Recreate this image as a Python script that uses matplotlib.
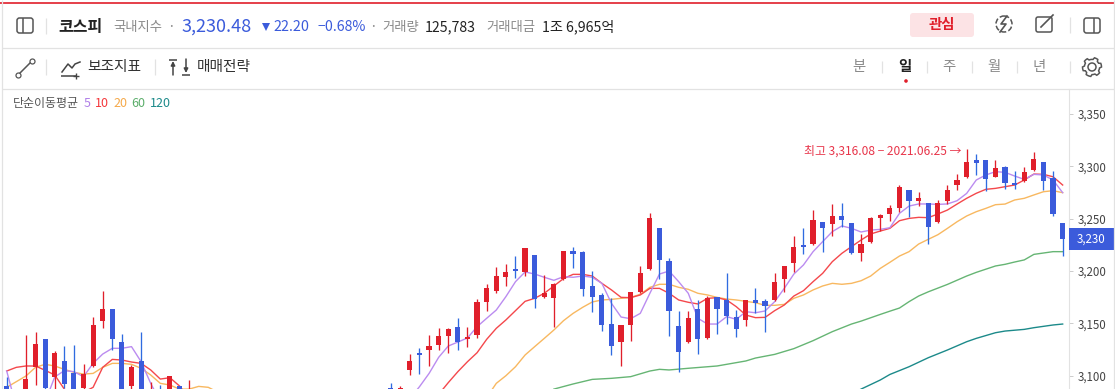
import matplotlib
matplotlib.use("Agg")
import matplotlib.pyplot as plt
from matplotlib.patches import Rectangle, FancyBboxPatch, Circle, Polygon
import numpy as np

plt.rcParams['font.family'] = ['Noto Sans CJK KR', 'DejaVu Sans']

# candles, only the days that reach into the visible window
days = list(range(0, 20)) + list(range(40, 111))
opens = [3090, 3078, 3085, 3108.1, 3134.9, 3098.6, 3113.9, 3102.4, 3088, 3109.1,
         3152.1, 3163.6, 3132, 3089.9, 3113.9, 3075, 3085, 3085, 3090, 3075,
         3088, 3086, 3105.3, 3121.5, 3124.4, 3129.2, 3137.8, 3146.4, 3134.9, 3138.7,
         3170.3, 3180.8, 3194.2, 3201.8, 3199, 3215.2, 3175, 3174, 3192.3, 3219,
         3218.1, 3185.6, 3177, 3149.2, 3132, 3148.3, 3179.8, 3201.8, 3241, 3209.5,
         3147.3, 3132, 3163.6, 3135.9, 3175, 3172.2, 3155.9, 3153.1, 3172.2, 3171.2,
         3172.2, 3192.3, 3207.6, 3224.8, 3225.7, 3246.8, 3244.9, 3252.5, 3245.8, 3217.1,
         3227.6, 3250.6, 3254.4, 3260.1, 3277.3, 3266.8, 3264.9, 3246.7, 3266.8, 3282.1,
         3289.8, 3306, 3306, 3289.8, 3299.3, 3284, 3285.9, 3296.5, 3304.1, 3288.8, 3245.8]
highs = [3098.9, 3085, 3138.7, 3141.6, 3134.9, 3123.4, 3128.2, 3129.2, 3111, 3155.9,
         3180.8, 3163.6, 3139.7, 3110, 3141.6, 3093.8, 3090.9, 3099.5, 3090, 3095.7,
         3092.8, 3090, 3120.6, 3126.3, 3138.7, 3145.4, 3145.4, 3155, 3146.4, 3173.1,
         3187.5, 3203.7, 3206.6, 3214.3, 3221.9, 3215.2, 3196.1, 3188.1, 3219, 3222.9,
         3219, 3199.9, 3178.9, 3174, 3148.3, 3179.8, 3204.7, 3255.4, 3241, 3212.3,
         3161.7, 3161.7, 3172.2, 3176, 3175, 3198, 3162.6, 3172.2, 3183.7, 3173.1,
         3198, 3204.7, 3233.4, 3241, 3258.2, 3246.8, 3264, 3265, 3245.8, 3235.3,
         3251.2, 3254.4, 3263, 3282.1, 3277.3, 3275.4, 3264.9, 3267.8, 3282.1, 3292.6,
         3316.1, 3311.8, 3306, 3306, 3300.3, 3295.5, 3299.3, 3313.7, 3304.1, 3295.5, 3245.8]
lows = [3075, 3072, 3075, 3090.9, 3085, 3085, 3088, 3080, 3085, 3108,
        3145.4, 3124.4, 3080, 3085, 3080, 3070, 3070, 3080, 3075, 3070,
        3078, 3084, 3100.5, 3101.4, 3109, 3124.4, 3121.5, 3124.4, 3127.3, 3135.9,
        3161.7, 3178.9, 3185.6, 3193.2, 3195.1, 3164.5, 3174, 3146.4, 3191.3, 3202.8,
        3176, 3160.7, 3142.5, 3119.6, 3109, 3133, 3178.9, 3200.9, 3192.3, 3137.8,
        3103.4, 3131, 3120.6, 3134.9, 3139.7, 3149.2, 3136.8, 3147.3, 3159.8, 3141.6,
        3171.2, 3179.8, 3199, 3216.2, 3224.8, 3218.1, 3233.4, 3242, 3216.2, 3209.5,
        3226.7, 3238.1, 3247.7, 3256.3, 3251.5, 3262, 3225.7, 3245.8, 3264, 3277.3,
        3288.8, 3291.7, 3276.4, 3289.8, 3278.3, 3278.3, 3285, 3295.5, 3277.3, 3252.5, 3214.2]
closes = [3080, 3082, 3096.6, 3130.1, 3088.4, 3121.5, 3091.9, 3085, 3101.4, 3148.3,
          3163.6, 3134.9, 3085, 3108.1, 3085, 3085, 3075, 3099.5, 3080, 3085,
          3082, 3088, 3113.9, 3119.6, 3128.2, 3137.8, 3144.5, 3132, 3136.8, 3170.3,
          3183.7, 3195.1, 3199, 3199.9, 3221.9, 3173.1, 3178.9, 3187.5, 3219, 3216.2,
          3182.7, 3175, 3148.3, 3128.2, 3148.3, 3179.8, 3198, 3250.6, 3210.4, 3161.7,
          3122.5, 3155, 3134.9, 3174.1, 3163.6, 3156.9, 3144.5, 3172.2, 3169.3, 3166.5,
          3189.4, 3204.7, 3222.9, 3222.9, 3248.7, 3241, 3252.5, 3248.7, 3217.1, 3225.7,
          3250.2, 3253.4, 3260.1, 3280.2, 3266.8, 3269.7, 3242, 3264.9, 3277.3, 3286.9,
          3304.1, 3303.2, 3287.9, 3298.4, 3284, 3282.1, 3294.5, 3307, 3285.9, 3254.4, 3230.48]

# moving averages, left run and right run (the gap is under the window)
ma5_left = [3104.3, 3070, 3060, 3060, 3074.6, 3098.6, 3104.6, 3103.7, 3098.9, 3111.6,
            3120.5, 3126, 3126, 3127.6, 3113.2, 3092.5, 3075]
ma5_right = [3078, 3089.3, 3102, 3117.4, 3128.2, 3132, 3135.9, 3146.7, 3154.7, 3162.6,
             3175.4, 3189.7, 3199, 3197, 3193.9, 3191, 3194.5, 3193.9, 3195.1, 3193.9,
             3188.1, 3169, 3155.9, 3154.3, 3159.4, 3178.6, 3197, 3199.9, 3189.7, 3178.6,
             3154.7, 3149.2, 3149.2, 3156.3, 3153.7, 3161, 3160, 3161.7, 3170.6, 3183.3,
             3197, 3205.7, 3218.4, 3228, 3237.5, 3243, 3240.7, 3237.2, 3239, 3239.7,
             3241.3, 3255, 3262, 3264, 3264, 3263.6, 3264, 3267.1, 3274.1, 3286.9,
             3291.7, 3294.9, 3294.2, 3290.7, 3287.5, 3292.3, 3291.7, 3286.9, 3274.8]
ma10_left = [3104.3, 3107.8, 3109.1, 3109.1, 3105, 3100.5, 3087, 3080, 3084, 3088.7,
             3107.8, 3115.4, 3114.8, 3112.9, 3111.6, 3105.3, 3096.6, 3097.9, 3090, 3078]
ma10_right = [3082, 3093.2, 3103.7, 3113.2, 3121.8, 3134.6, 3145.1, 3153.1, 3162, 3170.9,
              3173.8, 3178.6, 3185.6, 3192.6, 3196.7, 3196.7, 3195.1, 3188.1, 3181.8, 3174.7,
              3174.4, 3177, 3183.3, 3183.3, 3178.6, 3172.2, 3170, 3168.4, 3173.8, 3174.4,
              3172.2, 3165.8, 3157.8, 3155.3, 3155.6, 3162, 3167.4, 3176, 3181.1, 3189.7,
              3197.7, 3208.8, 3216.8, 3223.2, 3229.5, 3235.3, 3238.1, 3240.7, 3248, 3250.2,
              3251.2, 3250.9, 3254.4, 3258.2, 3263.9, 3269.4, 3274.2, 3278, 3278.9, 3280.5,
              3282.1, 3286.9, 3292.6, 3292.3, 3290, 3282.1]
ma20_left = [3088.7, 3094.1, 3099.5, 3107.8, 3110.7, 3109.1, 3105.9, 3103, 3101.4, 3102,
             3107.8, 3111.6, 3111.6, 3110.7, 3106.9, 3100.5, 3092.5, 3090.9, 3087, 3087,
             3089.6, 3088.7, 3084]
ma20_right = [3079, 3092.5, 3099.8, 3108.4, 3119.6, 3127.6, 3135.5, 3143.5, 3152.4, 3159.4,
              3165.2, 3170.3, 3172.2, 3172.8, 3173.8, 3174.7, 3177.6, 3184.3, 3187.2, 3187.2,
              3184.3, 3182.4, 3178.6, 3177, 3174.7, 3173.1, 3172.2, 3170.9, 3169.6, 3167.1,
              3167.1, 3168, 3173.8, 3177, 3181.8, 3185.6, 3188.1, 3187.2, 3188.1, 3190.6,
              3195.1, 3202.4, 3208.2, 3214.2, 3218.4, 3225.7, 3230.2, 3234.6, 3240.7, 3247,
              3252.5, 3256.6, 3259.8, 3263.3, 3263.9, 3267.8, 3269.4, 3272.6, 3275.7, 3276.7, 3274.8]
ma60_days = [57, 59, 61, 63, 65, 67, 68, 69, 71, 74, 76, 77, 78, 80, 82, 84, 86, 88, 89, 91,
             92, 93, 94, 95, 96, 98, 100, 101, 103, 104, 105, 106, 107, 109, 110]
ma60 = [3087, 3091.9, 3096.3, 3097.3, 3098.9, 3104.3, 3105.9, 3105.3, 3106.9, 3109.1,
        3112.3, 3113.9, 3116.7, 3120.2, 3125.7, 3133.3, 3141.9, 3149.2, 3152, 3158.4,
        3161.5, 3164.5, 3170.6, 3176, 3180, 3187.1, 3195.1, 3198.6, 3204.7, 3206.3,
        3208.5, 3210.5, 3215.8, 3218.4, 3218.4]
ma120_days = [88, 89, 91, 92, 94, 96, 98, 100, 101, 103, 104, 106, 107, 109, 110]
ma120 = [3082, 3087, 3095.7, 3101, 3108.4, 3117, 3124.4, 3132.3, 3135.5, 3140.9, 3142.5,
         3144.1, 3145.7, 3148.3, 3149.2]

y_ticks = [3100, 3150, 3200, 3250, 3300, 3350]
last_price = 3230.48
high_day = 100
high_price = 3316.08

RED = "#e01f2b"
BLUE = "#3b5bdb"
WICK_BLUE = "#2f6be0"
GRID = "#e2e2e2"
W, H = 1115, 389

fig = plt.figure(figsize=(W / 100, H / 100), dpi=100, facecolor="white")

# main chart area, px 2..1069 and y 89..389
ax = fig.add_axes([2 / W, 0, 1067 / W, 300 / H])
ax.set_xlim(-0.49, 110.66)
ax.set_ylim(3087.1, 3373.9)
ax.yaxis.tick_right()
ax.set_yticks(y_ticks)
ax.set_yticklabels([f"{v:,}" for v in y_ticks], fontsize=8.3, color="#444444")
ax.tick_params(axis="y", length=3, width=0.7, color="#cccccc", pad=3)
ax.set_xticks([])
for s in ["top", "left", "bottom"]:
    ax.spines[s].set_visible(False)
ax.spines["right"].set_color(GRID)

line_w = 1.0
ax.plot(range(0, len(ma20_left)), ma20_left, color="#f8b860", lw=line_w, zorder=1)
ax.plot(range(50, 50 + len(ma20_right)), ma20_right, color="#f8b860", lw=line_w, zorder=1)
ax.plot(range(0, len(ma10_left)), ma10_left, color="#f4484c", lw=line_w, zorder=1)
ax.plot(range(45, 45 + len(ma10_right)), ma10_right, color="#f4484c", lw=line_w, zorder=1)
ax.plot(range(0, len(ma5_left)), ma5_left, color="#bb8cf0", lw=line_w, zorder=1)
ax.plot(range(42, 42 + len(ma5_right)), ma5_right, color="#bb8cf0", lw=line_w, zorder=1)
ax.plot(ma60_days, ma60, color="#66b574", lw=line_w, zorder=1)
ax.plot(ma120_days, ma120, color="#1c8a8a", lw=line_w, zorder=1)

for d, o, h, l, c in zip(days, opens, highs, lows, closes):
    up = c >= o
    ax.vlines(d, l, h, color=RED if up else WICK_BLUE, lw=0.95, zorder=2)
    ax.bar(d, abs(c - o), bottom=min(o, c), width=0.54, color=RED if up else BLUE, zorder=3, linewidth=0)

ax.annotate("최고 3,316.08 − 2021.06.25 →", xy=(high_day, high_price), xytext=(-4, -1),
            textcoords="offset points", ha="right", va="center", fontsize=8.6, color="#e8354a")

# toolbar and frame, drawn in pixel coordinates on top
ui = fig.add_axes([0, 0, 1, 1], facecolor="none")
ui.set_xlim(0, W)
ui.set_ylim(H, 0)
ui.axis("off")


def txt(x, y, s, size, color="#222222", ha="left", weight="normal"):
    ui.text(x, y + 1, s, fontsize=size, color=color, ha=ha, va="center", fontweight=weight)


def rule(x0, y0, x1, y1, color=GRID, lw=0.9):
    ui.plot([x0, x1], [y0, y1], color=color, lw=lw, solid_capstyle="butt")


rule(0, 2.5, W, 2.5, color=RED, lw=1.2)
rule(2, 47.5, W, 47.5)
rule(2, 88.5, W, 88.5)
rule(2, 0, 2, H)
rule(1114, 0, 1114, H)

# first row
ui.add_patch(FancyBboxPatch((17, 18), 16, 15, boxstyle="round,pad=0,rounding_size=2.5", fc="none", ec="#555555", lw=1.1))
rule(23, 18, 23, 33, color="#555555", lw=1.1)
rule(46, 18, 46, 34)
txt(58, 26, "코스피", 11.5, "#222222", weight="bold")
txt(113, 26, "국내지수", 9.6, "#8a8a8a")
txt(171, 26, "·", 10, "#8a8a8a", ha="center")
txt(181, 26, "3,230.48", 13, BLUE, weight="medium")
ui.plot([265.5], [27], marker="v", ms=6, color=BLUE, mew=0)
txt(273, 26, "22.20", 10.4, BLUE)
txt(317, 26, "−0.68%", 10.2, BLUE)
txt(373, 26, "·", 10, "#8a8a8a", ha="center")
txt(382, 26, "거래량", 9.6, "#8a8a8a")
txt(425, 26, "125,783", 10.2, "#222222")
txt(486, 26, "거래대금", 9.6, "#8a8a8a")
txt(542, 26, "1조 6,965억", 10.2, "#222222")

ui.add_patch(FancyBboxPatch((910, 13), 64, 24, boxstyle="round,pad=0,rounding_size=3", fc="#fce3e5", ec="none"))
txt(942, 24, "관심", 10.4, RED, ha="center", weight="bold")
ui.add_patch(Circle((1004, 24), 8, fc="none", ec="#555555", lw=1.1, ls=(0, (3.5, 1.5))))
ui.plot([1007, 1001, 1006, 1000], [16, 24, 24, 32], color="#555555", lw=1.2)
ui.add_patch(FancyBboxPatch((1036, 17), 16, 15, boxstyle="round,pad=0,rounding_size=2", fc="none", ec="#555555", lw=1.1))
ui.plot([1041, 1053], [27, 15], color="#555555", lw=1.2)
rule(1070, 17, 1070, 33)
ui.add_patch(FancyBboxPatch((1084, 18), 16, 15, boxstyle="round,pad=0,rounding_size=2.5", fc="none", ec="#555555", lw=1.1))
rule(1094, 18, 1094, 33, color="#555555", lw=1.1)

# second row
ui.plot([19, 31], [74, 62], color="#555555", lw=1.1)
ui.plot([18, 32], [75, 61], ls="none", marker="o", ms=3.6, mfc="white", mec="#555555", mew=0.9)
rule(46, 59, 46, 75)
ui.plot([62, 68, 72, 75, 80], [72, 64, 68, 64, 62], color="#444444", lw=1.1)
rule(61, 76, 76, 76, color="#444444", lw=1.1)
rule(76, 73, 76, 79, color="#444444", lw=1.0)
rule(73, 76, 79, 76, color="#444444", lw=1.0)
txt(87, 66, "보조지표", 10.6, "#333333", weight="medium")
rule(155, 59, 155, 75)
rule(169, 60, 177, 60, color="#444444", lw=1.1)
ui.annotate("", xy=(173, 61), xytext=(173, 75), arrowprops=dict(arrowstyle="-|>", color="#444444", lw=1.1, mutation_scale=6, shrinkA=0, shrinkB=0))
ui.annotate("", xy=(186, 73), xytext=(186, 59), arrowprops=dict(arrowstyle="-|>", color="#444444", lw=1.1, mutation_scale=6, shrinkA=0, shrinkB=0))
rule(182, 75, 190, 75, color="#444444", lw=1.1)
txt(197, 66, "매매전략", 10.6, "#333333", weight="medium")

for x, s, c, w in [(859, "분", "#8a8a8a", "normal"), (905, "일", "#222222", "bold"),
                   (949, "주", "#8a8a8a", "normal"), (994, "월", "#8a8a8a", "normal"),
                   (1039, "년", "#8a8a8a", "normal")]:
    txt(x, 66, s, 10.4, c, ha="center", weight=w)
for x in [882, 927, 972, 1017, 1070]:
    rule(x, 61, x, 73)
ui.add_patch(Circle((906, 81), 1.8, fc=RED, ec="none"))

# gear icon
ang = np.linspace(0, 2 * np.pi, 48, endpoint=False)
rad = np.where(((ang + np.pi / 8) % (np.pi / 3)) < np.pi / 6, 9.5, 7.6)
ui.add_patch(Polygon(np.c_[1092 + rad * np.cos(ang), 67 + rad * np.sin(ang)], closed=True, fc="none", ec="#555555", lw=1.1))
ui.add_patch(Circle((1092, 67), 4, fc="none", ec="#555555", lw=1.1))

# legend row
txt(13, 102, "단순이동평균", 8.6, "#555555")
for x, s, c in [(84, "5", "#b07fe8"), (95, "10", "#f4383c"), (113, "20", "#f5a94a"),
                (131, "60", "#5cae6b"), (150, "120", "#1c8a8a")]:
    txt(x, 102, s, 9, c)

# last price tag on the axis
tag_y = 375.5 - (last_price - 3100) * 1.046
ui.add_patch(Rectangle((1069, tag_y - 11), 46, 21.5, fc=BLUE, ec="none"))
txt(1077, tag_y - 1, f"{last_price:,.0f}", 8.3, "white")

fig.savefig("out.png", dpi=100)
plt.close()
